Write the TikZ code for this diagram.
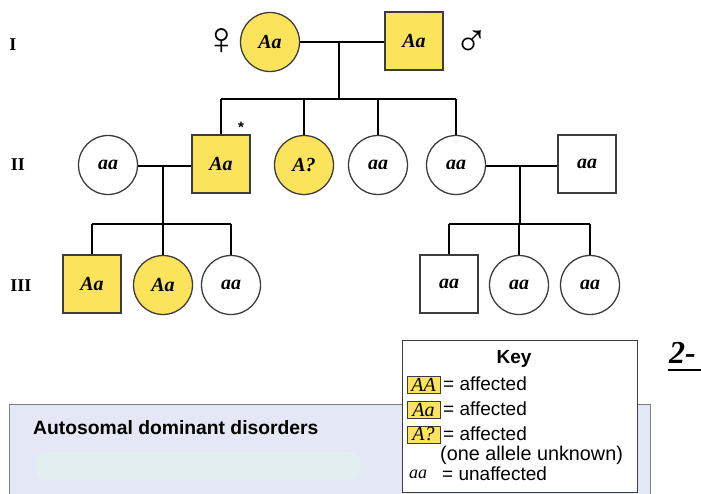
\documentclass[tikz,border=0pt]{standalone}
\usepackage{fontspec}
\setmainfont{Liberation Serif}
\setsansfont{Liberation Sans}
\newfontfamily\symfont{Liberation Sans}
\definecolor{affyellow}{RGB}{251,228,92}
\definecolor{panelblue}{RGB}{228,232,245}
\definecolor{smear}{RGB}{226,238,240}
\definecolor{edgegray}{RGB}{60,60,60}
\newcommand\genofont{\fontsize{20}{20}\selectfont\bfseries\itshape}
\newcommand\gentag{\fontsize{18}{18}\selectfont\bfseries}
\newcommand\keyfont{\fontsize{19}{19}\selectfont\sffamily}
\tikzset{
  person/.style={draw=edgegray, line width=1.3pt, inner sep=0pt, font=\genofont},
  female/.style={person, circle, minimum size=59pt},
  male/.style={person, rectangle, minimum size=58pt},
  affected/.style={fill=affyellow},
  link/.style={line width=2.6pt, black},
  gentext/.style={font=\gentag, inner sep=0pt},
  sexsign/.style={font=\symfont\fontsize{46}{46}\selectfont, inner sep=0pt},
  keychip/.style={draw=edgegray, line width=0.8pt, fill=affyellow, minimum width=33pt,
    minimum height=17pt, inner sep=0pt, font=\fontsize{20}{20}\selectfont\itshape},
  keytext/.style={anchor=west, inner sep=0pt, font=\keyfont}
}
\begin{document}
\begin{tikzpicture}[x=1pt, y=-1pt]
\useasboundingbox (0,0) rectangle (701,493);
\fill[white] (0,0) rectangle (701,493);

% generation labels
\node[gentext] (gI) at (13,45) {I};
\node[gentext] (gII) at (18,165) {II};
\node[gentext] (gIII) at (21,286) {III};

% generation I
\node[female, affected] (f1) at (270,42) {Aa};
\node[male, affected] (m1) at (414,41) {Aa};
\node[sexsign] (venus) at (222,42) {♀};
\node[sexsign] (mars) at (472,44) {♂};

% generation II
\node[female] (a1) at (108,165) {aa};
\node[male, affected] (a2) at (221,164) {Aa};
\node[female, affected] (a3) at (304,165) {A?};
\node[female] (a4) at (378,165) {aa};
\node[female] (a5) at (456,165) {aa};
\node[male] (a6) at (587,164) {aa};
\node[font=\sffamily\bfseries\fontsize{15}{15}\selectfont, inner sep=0pt] (star) at (241,127) {*};

% generation III
\node[male, affected] (b1) at (92,284) {Aa};
\node[female, affected] (b2) at (163,285) {Aa};
\node[female] (b3) at (231,285) {aa};
\node[male] (b4) at (449,284) {aa};
\node[female] (b5) at (519,285) {aa};
\node[female] (b6) at (590,285) {aa};

% family of generation I
\coordinate (u1) at (339,42);
\coordinate (s1) at (339,99);
\draw[link] (f1.east) -- (f1.east -| m1.west);
\draw[link] (u1) -- (s1);
\draw[link] (s1 -| a2) -- (s1 -| a5);
\foreach \c in {a2,a3,a4,a5} \draw[link] (s1 -| \c) -- (\c.north);

% left family of generation II
\coordinate (u2) at (163,166);
\coordinate (s2) at (163,224);
\draw[link] (a1.east |- u2) -- (a2.west |- u2);
\draw[link] (u2) -- (s2);
\draw[link] (s2 -| b1) -- (s2 -| b3);
\foreach \c in {b1,b2,b3} \draw[link] (s2 -| \c) -- (\c.north);

% right family of generation II
\coordinate (u3) at (520,166);
\coordinate (s3) at (520,224);
\draw[link] (a5.east |- u3) -- (a6.west |- u3);
\draw[link] (u3) -- (s3);
\draw[link] (s3 -| b4) -- (s3 -| b6);
\foreach \c in {b4,b5,b6} \draw[link] (s3 -| \c) -- (\c.north);

% lower panel
\fill[panelblue] (9,404) rectangle (650,494);
\fill[smear, rounded corners=10pt] (36,452) rectangle (360,480);
\draw[gray, line width=1pt] (9,494) -- (9,404) -- (650,404) -- (650,494);
\node[anchor=base west, inner sep=0pt, font=\sffamily\bfseries\fontsize{19.3}{19.3}\selectfont] (title) at (33,434) {Autosomal dominant disorders};

% key
\draw[edgegray, line width=1pt, fill=white] (402,340) rectangle (637,492);
\node[inner sep=0pt, font=\keyfont\bfseries] (keyhead) at (514,359) {Key};
\node[keychip] (k1) at (423.5,384.5) {AA};
\node[keychip] (k2) at (423.5,409.5) {Aa};
\node[keychip] (k3) at (423.5,434.5) {A?};
\node[keytext] (t1) at (443,384) {= affected};
\node[keytext] (t2) at (443,409) {= affected};
\node[keytext] (t3) at (443,434) {= affected};
\node[anchor=west, inner sep=0pt, font=\fontsize{19.8}{19.8}\selectfont\sffamily] (t4) at (440,455) {(one allele unknown)};
\node[inner sep=0pt, font=\fontsize{18}{18}\selectfont\itshape] (k4) at (418,474) {aa};
\node[keytext] (t5) at (442,474) {= unaffected};

% page mark
\node[anchor=base west, inner sep=0pt, font=\fontsize{32}{32}\selectfont\bfseries\itshape] (mark) at (669,363) {2-};
\draw[line width=2.5pt] (668,370) -- (701,370);
\end{tikzpicture}
\end{document}
